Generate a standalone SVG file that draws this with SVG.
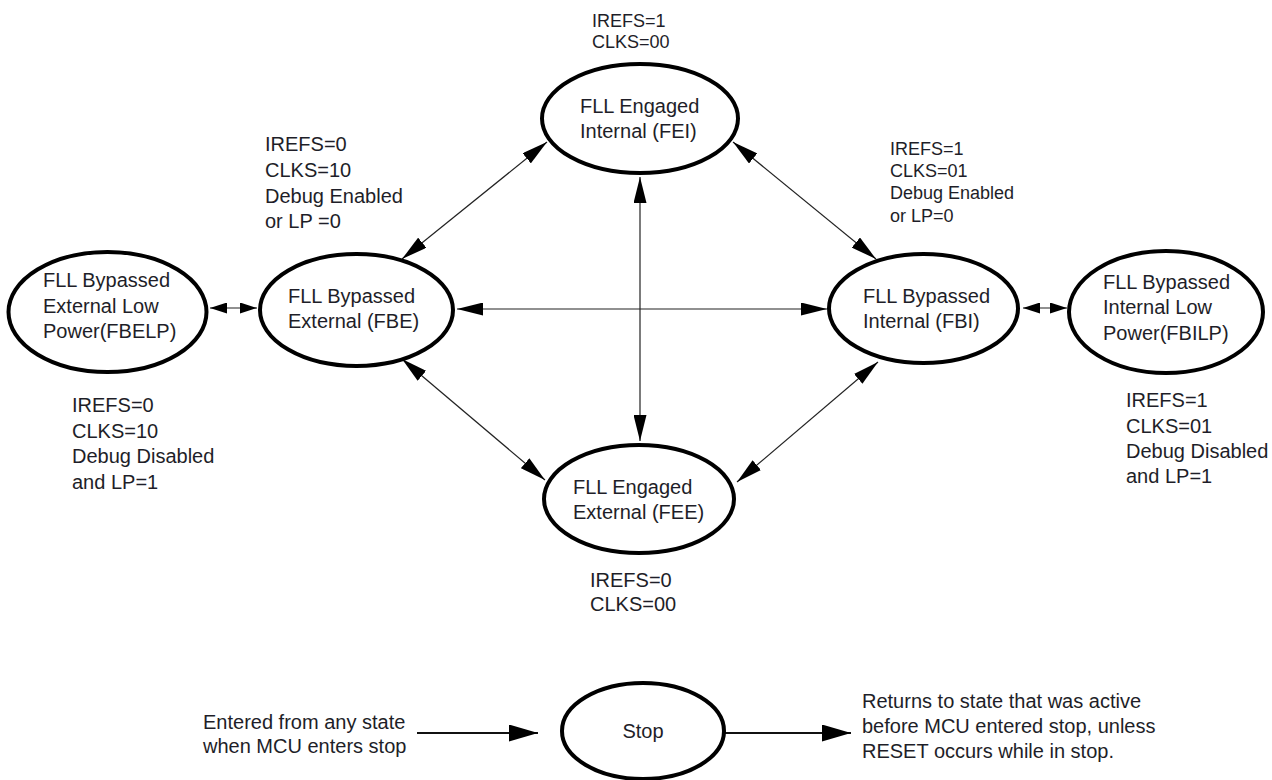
<svg xmlns="http://www.w3.org/2000/svg" width="1272" height="780" viewBox="0 0 1272 780">
<defs>
<style>
.n ellipse{fill:#fff;stroke:#000;stroke-width:4}
text{font-family:"Liberation Sans",Arial,sans-serif;fill:#1e1e28}
.t20{font-size:20px}
.t18{font-size:18px}
.c line{stroke:#222;stroke-width:1.2}
.c line.big{stroke:#111;stroke-width:2}
</style>
<marker id="ah" markerUnits="userSpaceOnUse" viewBox="0 0 26 13" markerWidth="26" markerHeight="13" refX="26" refY="6.5" orient="auto-start-reverse"><path d="M0,0 L26,6.5 L0,13 z" fill="#000"/></marker>
<marker id="sh" markerUnits="userSpaceOnUse" viewBox="0 0 17 11" markerWidth="17" markerHeight="11" refX="17" refY="5.5" orient="auto-start-reverse"><path d="M0,0 L17,5.5 L0,11 z" fill="#000"/></marker>
<marker id="bh" markerUnits="userSpaceOnUse" viewBox="0 0 29 17" markerWidth="29" markerHeight="17" refX="29" refY="8.5" orient="auto"><path d="M0,0 L29,8.5 L0,17 z" fill="#000"/></marker>
</defs>
<rect width="1272" height="780" fill="#fff"/>

<g id="connectors" class="c">
<line x1="402" y1="259" x2="547" y2="142" marker-start="url(#ah)" marker-end="url(#ah)"/>
<line x1="733" y1="142" x2="876" y2="259" marker-start="url(#ah)" marker-end="url(#ah)"/>
<line x1="640" y1="177" x2="640" y2="441" marker-start="url(#ah)" marker-end="url(#ah)"/>
<line x1="457" y1="309" x2="827" y2="309" marker-start="url(#ah)" marker-end="url(#ah)"/>
<line x1="402" y1="359" x2="545" y2="480" marker-start="url(#ah)" marker-end="url(#ah)"/>
<line x1="878" y1="362" x2="737" y2="482" marker-start="url(#ah)" marker-end="url(#ah)"/>
<line x1="210" y1="308" x2="257" y2="308" marker-start="url(#sh)" marker-end="url(#sh)"/>
<line x1="1023" y1="308" x2="1067" y2="308" marker-start="url(#sh)" marker-end="url(#sh)"/>
<line class="big" x1="417" y1="733" x2="538" y2="733" marker-end="url(#bh)"/>
<line class="big" x1="724" y1="733" x2="851" y2="733" marker-end="url(#bh)"/>
</g>

<g id="FEI" class="n">
<ellipse cx="640" cy="118.5" rx="98" ry="54.5"/>
<text class="t20" x="580" y="113">FLL Engaged</text>
<text class="t20" x="580" y="138">Internal (FEI)</text>
</g>
<g id="FBE" class="n">
<ellipse cx="356.5" cy="310" rx="96.5" ry="56"/>
<text class="t20" x="288" y="303">FLL Bypassed</text>
<text class="t20" x="288" y="328">External (FBE)</text>
</g>
<g id="FBELP" class="n">
<ellipse cx="107.5" cy="312" rx="99" ry="60"/>
<text class="t20" x="43" y="287">FLL Bypassed</text>
<text class="t20" x="43" y="313">External Low</text>
<text class="t20" x="43" y="338">Power(FBELP)</text>
</g>
<g id="FBI" class="n">
<ellipse cx="923.5" cy="308.5" rx="94.5" ry="54.5"/>
<text class="t20" x="863" y="303">FLL Bypassed</text>
<text class="t20" x="863" y="328">Internal (FBI)</text>
</g>
<g id="FBILP" class="n">
<ellipse cx="1166" cy="312" rx="97" ry="61"/>
<text class="t20" x="1103" y="289">FLL Bypassed</text>
<text class="t20" x="1103" y="314">Internal Low</text>
<text class="t20" x="1103" y="340">Power(FBILP)</text>
</g>
<g id="FEE" class="n">
<ellipse cx="639" cy="499" rx="95" ry="54"/>
<text class="t20" x="573" y="494">FLL Engaged</text>
<text class="t20" x="573" y="519">External (FEE)</text>
</g>
<g id="Stop" class="n">
<ellipse cx="643" cy="731" rx="81" ry="48"/>
<text class="t20" x="643" y="738" text-anchor="middle">Stop</text>
</g>

<g id="labels">
<text class="t18" x="592" y="27">IREFS=1</text>
<text class="t18" x="592" y="48">CLKS=00</text>

<text class="t20" x="265" y="151">IREFS=0</text>
<text class="t20" x="265" y="177">CLKS=10</text>
<text class="t20" x="265" y="203">Debug Enabled</text>
<text class="t20" x="265" y="228">or LP =0</text>

<text class="t18" x="890" y="155">IREFS=1</text>
<text class="t18" x="890" y="177">CLKS=01</text>
<text class="t18" x="890" y="199">Debug Enabled</text>
<text class="t18" x="890" y="222">or LP=0</text>

<text class="t20" x="72" y="412">IREFS=0</text>
<text class="t20" x="72" y="438">CLKS=10</text>
<text class="t20" x="72" y="463">Debug Disabled</text>
<text class="t20" x="72" y="489">and LP=1</text>

<text class="t20" x="1126" y="407">IREFS=1</text>
<text class="t20" x="1126" y="433">CLKS=01</text>
<text class="t20" x="1126" y="458">Debug Disabled</text>
<text class="t20" x="1126" y="483">and LP=1</text>

<text class="t20" x="590" y="587">IREFS=0</text>
<text class="t20" x="590" y="611">CLKS=00</text>

<text class="t20" x="203" y="729">Entered from any state</text>
<text class="t20" x="203" y="753">when MCU enters stop</text>

<text class="t20" x="862" y="708">Returns to state that was active</text>
<text class="t20" x="862" y="733">before MCU entered stop, unless</text>
<text class="t20" x="862" y="758">RESET occurs while in stop.</text>
</g>
</svg>
